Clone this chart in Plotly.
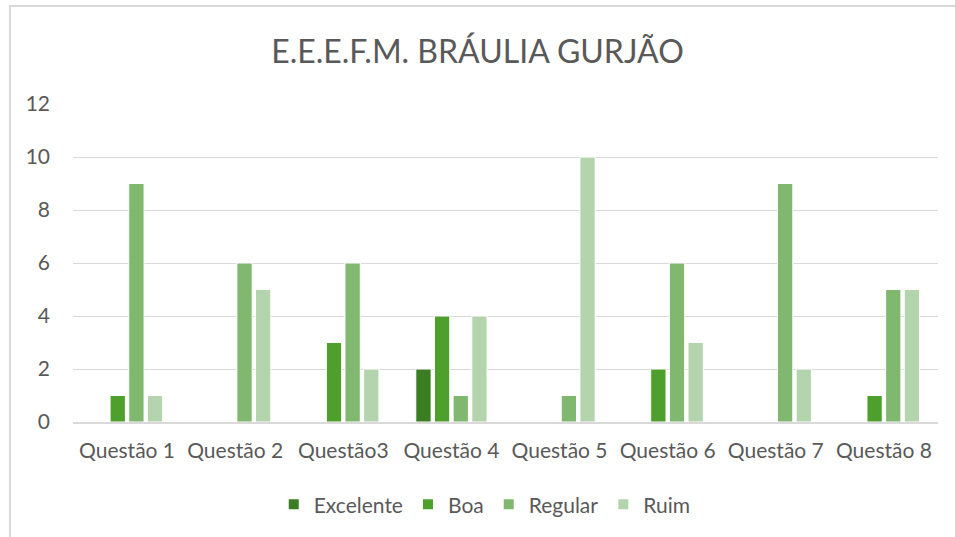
import plotly.graph_objects as go

categories = ["Questão 1", "Questão 2", "Questão3", "Questão 4", "Questão 5", "Questão 6", "Questão 7", "Questão 8"]
excelente = [0, 0, 0, 2, 0, 0, 0, 0]
boa = [1, 0, 3, 4, 0, 2, 0, 1]
regular = [9, 6, 6, 1, 1, 6, 9, 5]
ruim = [1, 5, 2, 4, 10, 3, 2, 5]
y_ticks = [0, 2, 4, 6, 8, 10, 12]

series = [
    ("Excelente", excelente, "#3A7D22"),
    ("Boa", boa, "#4E9F2C"),
    ("Regular", regular, "#7FB86E"),
    ("Ruim", ruim, "#B4D4AE"),
]

fig = go.Figure()
for name, vals, col in series:
    fig.add_trace(go.Bar(
        x=categories, y=vals, name=name,
        marker=dict(color=col, line=dict(color="white", width=1)),
    ))

font_fam = "Lato, 'Open Sans', sans-serif"
fig.update_layout(
    width=955, height=537,
    barmode="group", bargap=0.31, bargroupgap=0.18,
    paper_bgcolor="white", plot_bgcolor="white",
    margin=dict(l=73, r=17, t=104, b=115),
    title=dict(text="E.E.E.F.M. BRÁULIA GURJÃO", x=0.5, xanchor="center", y=0.904, yanchor="middle",
               font=dict(family=font_fam, size=32, color="#595959")),
    font=dict(family=font_fam, size=21, color="#595959"),
    xaxis=dict(showgrid=False, showline=True, linecolor="#D9D9D9", linewidth=2,
               tickfont=dict(size=21, color="#595959"), ticks="", ticklabelstandoff=9),
    yaxis=dict(range=[0, 12], tickvals=y_ticks, showgrid=True, gridcolor="#D9D9D9", gridwidth=1,
               zeroline=False, showline=False, ticks="", tickfont=dict(size=21, color="#595959"),
               ticklabelstandoff=22),
    legend=dict(orientation="h", x=0.476, xanchor="center", y=-0.26, yanchor="middle",
                font=dict(size=21, color="#595959"), itemsizing="constant", traceorder="normal"),
    shapes=[dict(type="rect", xref="paper", yref="paper", x0=-0.0728, x1=1.2, y0=-0.6, y1=1.308,
                 line=dict(color="#D9D9D9", width=2), fillcolor="rgba(0,0,0,0)", layer="below")],
)

fig.write_html("out.html", config={"displayModeBar": False},
               post_script="document.body.style.margin='0';document.body.style.overflow='hidden';")
